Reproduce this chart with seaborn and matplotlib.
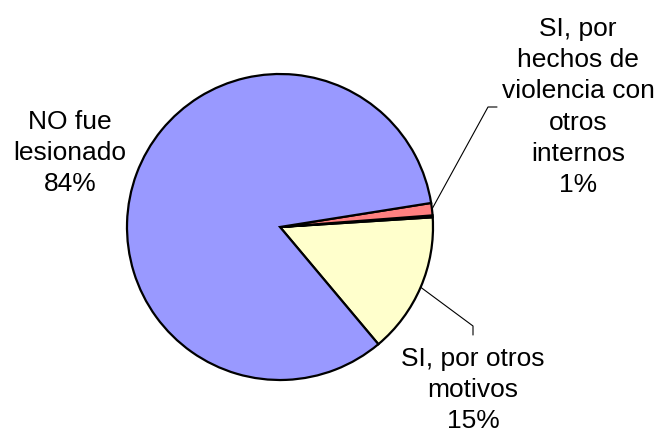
import numpy as np
import matplotlib
matplotlib.use("Agg")
import matplotlib.pyplot as plt
import seaborn as sns

# datos (porcentaje de internos)
categorias = ["SI, por otros\nmotivos", "", "SI, por\nhechos de\nviolencia con\notros\ninternos", "NO fue\nlesionado"]
valores = [14.9, 0.2, 1.3, 83.6]
colores = ["#FFFFCC", "#000000", "#FF8080", "#9999FF"]

sns.set_theme(style="white")
plt.rcParams['font.family'] = ['Liberation Sans', 'DejaVu Sans']

fig = plt.figure(figsize=(6.69, 4.39), dpi=100)
ax = fig.add_axes([0, 0, 1, 1])

cx, cy, r = 280, 439 - 228, 153
wedges, _ = ax.pie(valores, colors=colores, startangle=-50, counterclock=True,
                   center=(cx, cy), radius=r, frame=True,
                   wedgeprops=dict(edgecolor="black", linewidth=1.6))
ax.set_xlim(0, 669)
ax.set_ylim(0, 439)
ax.axis("off")

total = sum(valores)
pct = [f"{round(v / total * 100):.0f}%" for v in valores]

# posiciones de las etiquetas (centro del bloque de texto) y codo de la linea guia
etiquetas = {
    0: dict(pos=(473, 439 - 390), codo=[(473, 439 - 327), (473, 439 - 336)]),
    2: dict(pos=(578, 439 - 107), codo=[(488, 439 - 108), (497, 439 - 108)]),
    3: dict(pos=(70, 439 - 153), codo=None),
}

for i, d in etiquetas.items():
    ax.text(d["pos"][0], d["pos"][1], categorias[i] + "\n" + pct[i],
            ha="center", va="center", fontsize=19, color="black",
            linespacing=1.38)
    if d["codo"]:
        w = wedges[i]
        ang = np.deg2rad((w.theta1 + w.theta2) / 2)
        x0, y0 = cx + r * np.cos(ang), cy + r * np.sin(ang)
        xs = [x0] + [p[0] for p in d["codo"]]
        ys = [y0] + [p[1] for p in d["codo"]]
        ax.plot(xs, ys, color="black", linewidth=0.8)

fig.savefig("out.png", dpi=100, facecolor="white")
